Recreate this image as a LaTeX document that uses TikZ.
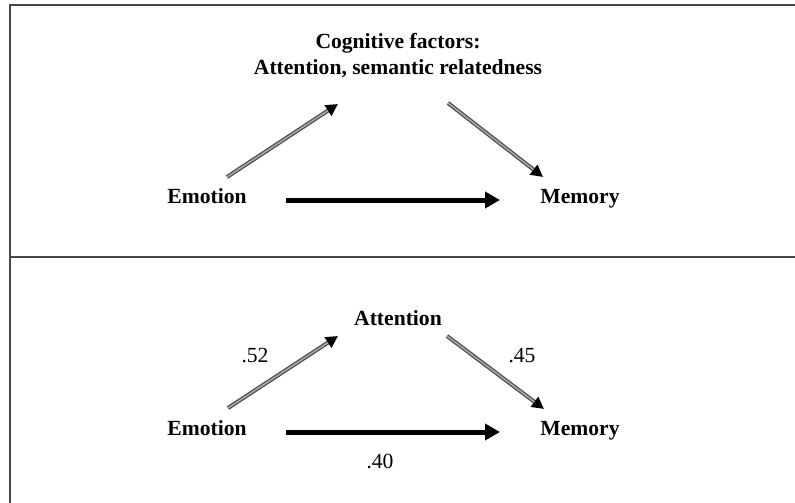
\documentclass[tikz,border=0pt]{standalone}
\usepackage{fontspec}
\setmainfont{Liberation Serif}
\usetikzlibrary{arrows.meta}
\begin{document}
\begin{tikzpicture}[x=1pt,y=-1pt,
  lbl/.style={font=\fontsize{21.6}{26}\selectfont\bfseries, inner sep=0pt, align=center},
  word/.style={font=\fontsize{21.6}{26}\selectfont\bfseries, inner sep=0pt, anchor=base},
  num/.style={font=\fontsize{21.6}{26}\selectfont, inner sep=0pt, anchor=base},
  frameline/.style={draw=black!72, line width=2pt},
  thickarrow/.style={draw=black, line width=5pt, -{Triangle[length=15pt,width=16pt]}},
  grayarrow/.style={draw=black!70, line width=4pt, -{Triangle[length=12pt,width=12pt,fill=black,color=black]},
    postaction={draw=black!35, line width=1.6pt, -, shorten >=12pt}}]
\useasboundingbox (0,0) rectangle (795,503);
\fill[white] (0,0) rectangle (795,503);
% frame
\coordinate (tl) at (9.5,5);
\coordinate (tr) at (796,5);
\coordinate (bl) at (9.5,504);
\coordinate (ml) at (9.5,257);
\coordinate (mr) at (796,257);
\draw[frameline] (bl) -- (tl) -- (tr);
\draw[frameline] (ml) -- (mr);
% top panel
\node[lbl] (cog) at (398,56) {Cognitive factors:\\Attention, semantic relatedness};
\node[word] (emo1) at (207,203) {Emotion};
\node[word] (mem1) at (580,203) {Memory};
\coordinate (a1s) at (227,177);
\coordinate (a1e) at (338,104);
\coordinate (b1s) at (448,103);
\coordinate (b1e) at (543,177);
\coordinate (c1s) at (286,200);
\coordinate (c1e) at (500,200);
\draw[grayarrow] (a1s) -- (a1e);
\draw[grayarrow] (b1s) -- (b1e);
\draw[thickarrow] (c1s) -- (c1e);
% bottom panel
\node[word] (att) at (398,325) {Attention};
\node[word] (emo2) at (207,435) {Emotion};
\node[word] (mem2) at (580,435) {Memory};
\coordinate (a2s) at (228,408);
\coordinate (a2e) at (338,336);
\coordinate (b2s) at (447,336);
\coordinate (b2e) at (544,409);
\coordinate (c2s) at (286,432);
\coordinate (c2e) at (500,432);
\draw[grayarrow] (a2s) -- (a2e);
\draw[grayarrow] (b2s) -- (b2e);
\draw[thickarrow] (c2s) -- (c2e);
\node[num] (n52) at (255,362) {.52};
\node[num] (n45) at (522,362) {.45};
\node[num] (n40) at (380,468) {.40};
\end{tikzpicture}
\end{document}
